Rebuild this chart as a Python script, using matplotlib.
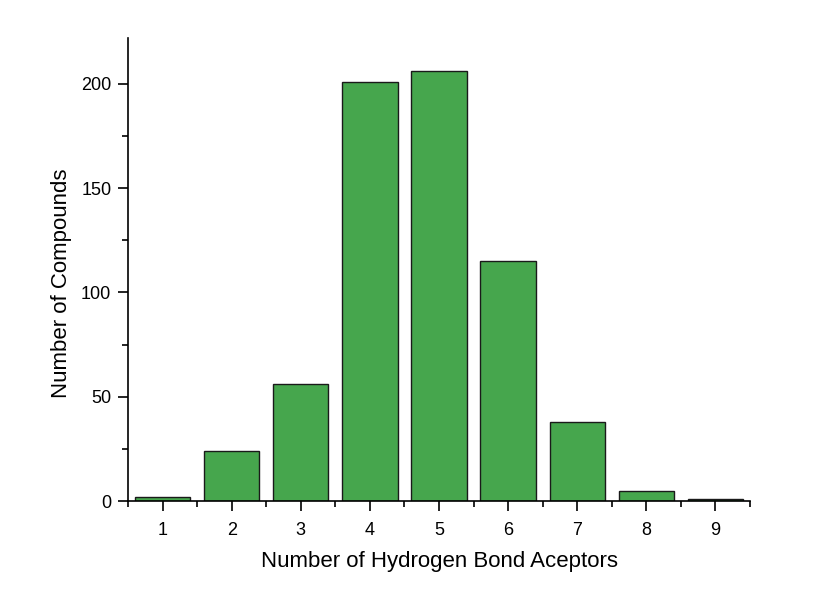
import matplotlib
matplotlib.use("Agg")
import matplotlib.pyplot as plt
from matplotlib.ticker import MultipleLocator

plt.rcParams['font.family'] = ['Liberation Sans', 'DejaVu Sans']

# data
acceptors = [1, 2, 3, 4, 5, 6, 7, 8, 9]
counts = [2, 24, 56, 201, 206, 115, 38, 5, 1]

fig = plt.figure(figsize=(8.4, 5.9), dpi=100)
ax = fig.add_axes([0.1524, 0.1508, 0.7405, 0.7848])

ax.bar(acceptors, counts, width=0.8, color='#46A64D', edgecolor='#1a1a1a', linewidth=1.0)

ax.set_xlim(0.5, 9.5)
ax.set_ylim(0, 222)
ax.xaxis.set_major_locator(MultipleLocator(1))
ax.xaxis.set_minor_locator(MultipleLocator(0.5))
ax.yaxis.set_major_locator(MultipleLocator(50))
ax.yaxis.set_minor_locator(MultipleLocator(25))

for s in ['top', 'right']:
    ax.spines[s].set_visible(False)
for s in ['left', 'bottom']:
    ax.spines[s].set_linewidth(1.2)

ax.tick_params(which='major', direction='out', length=7, width=1.2, labelsize=13)
ax.tick_params(axis='x', which='major', pad=8)
ax.tick_params(axis='y', which='major', pad=5)
ax.tick_params(which='minor', direction='out', length=4, width=1.2)

ax.set_xlabel('Number of Hydrogen Bond Aceptors', fontsize=16, labelpad=9)
ax.set_ylabel('Number of Compounds', fontsize=16)
ax.yaxis.set_label_coords(-0.09, 0.47)

fig.savefig('out.png', dpi=100)
